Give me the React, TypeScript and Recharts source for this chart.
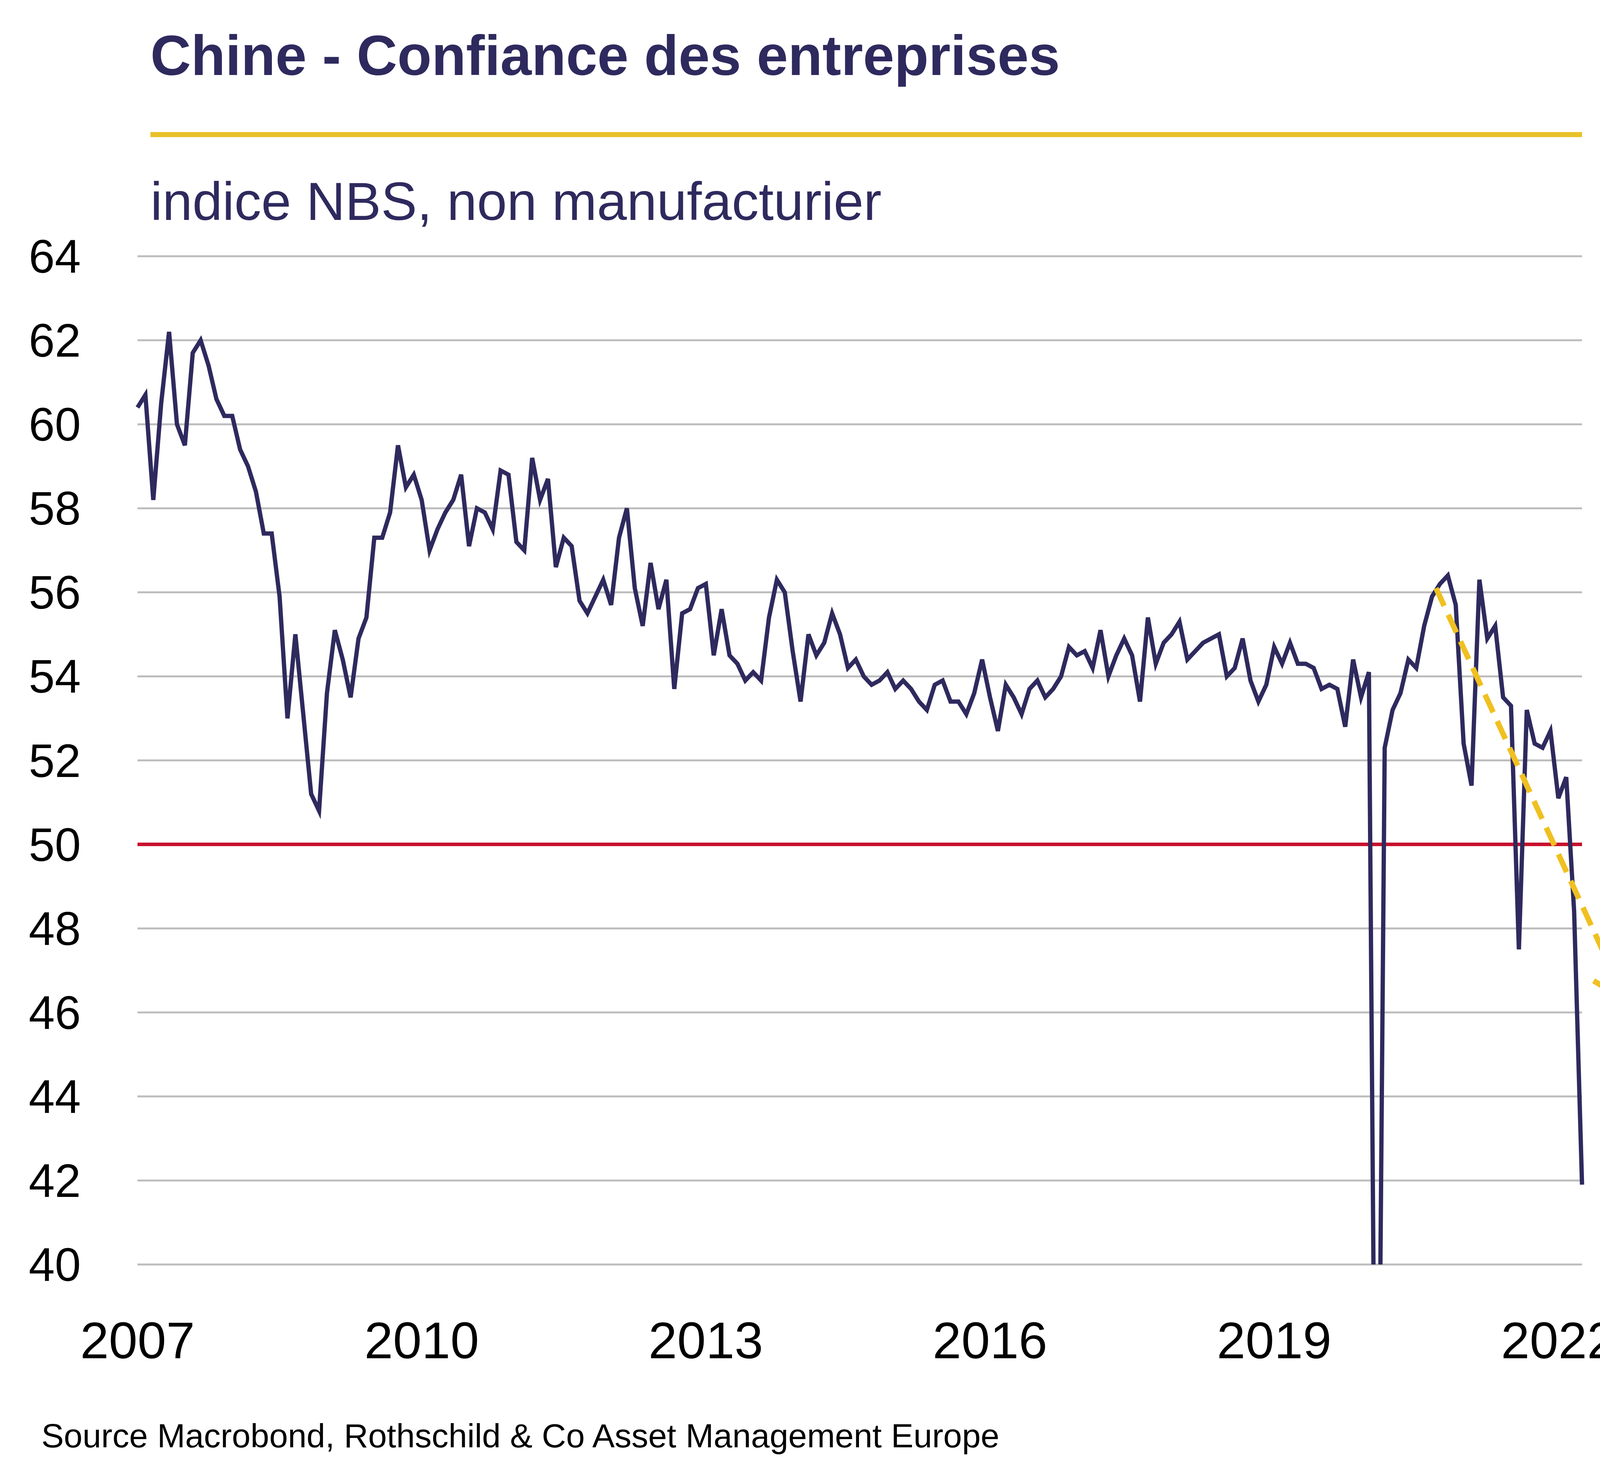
import React from 'react'
import {CartesianGrid, Line, LineChart, ReferenceLine, XAxis, YAxis} from 'recharts';

const y2007 = [60.4, 60.7, 58.2, 60.5, 62.2, 60.0, 59.5, 61.7, 62.0, 61.4, 60.6, 60.2];
const y2008 = [60.2, 59.4, 59.0, 58.4, 57.4, 57.4, 55.9, 53.0, 55.0, 53.1, 51.2, 50.8];
const y2009 = [53.6, 55.1, 54.4, 53.5, 54.9, 55.4, 57.3, 57.3, 57.9, 59.5, 58.5, 58.8];
const y2010 = [58.2, 57.0, 57.5, 57.9, 58.2, 58.8, 57.1, 58.0, 57.9, 57.5, 58.9, 58.8];
const y2011 = [57.2, 57.0, 59.2, 58.2, 58.7, 56.6, 57.3, 57.1, 55.8, 55.5, 55.9, 56.3];
const y2012 = [55.7, 57.3, 58.0, 56.1, 55.2, 56.7, 55.6, 56.3, 53.7, 55.5, 55.6, 56.1];
const y2013 = [56.2, 54.5, 55.6, 54.5, 54.3, 53.9, 54.1, 53.9, 55.4, 56.3, 56.0, 54.6];
const y2014 = [53.4, 55.0, 54.5, 54.8, 55.5, 55.0, 54.2, 54.4, 54.0, 53.8, 53.9, 54.1];
const y2015 = [53.7, 53.9, 53.7, 53.4, 53.2, 53.8, 53.9, 53.4, 53.4, 53.1, 53.6, 54.4];
const y2016 = [53.5, 52.7, 53.8, 53.5, 53.1, 53.7, 53.9, 53.5, 53.7, 54.0, 54.7, 54.5];
const y2017 = [54.6, 54.2, 55.1, 54.0, 54.5, 54.9, 54.5, 53.4, 55.4, 54.3, 54.8, 55.0];
const y2018 = [55.3, 54.4, 54.6, 54.8, 54.9, 55.0, 54.0, 54.2, 54.9, 53.9, 53.4, 53.8];
const y2019 = [54.7, 54.3, 54.8, 54.3, 54.3, 54.2, 53.7, 53.8, 53.7, 52.8, 54.4, 53.5];
const y2020 = [54.1, 29.6, 52.3, 53.2, 53.6, 54.4, 54.2, 55.2, 55.9, 56.2, 56.4, 55.7];
const y2021 = [52.4, 51.4, 56.3, 54.9, 55.2, 53.5, 53.3, 47.5, 53.2, 52.4, 52.3, 52.7];
const y2022 = [51.1, 51.6, 48.4, 41.9];

const values = [...y2007, ...y2008, ...y2009, ...y2010, ...y2011, ...y2012, ...y2013, ...y2014,
    ...y2015, ...y2016, ...y2017, ...y2018, ...y2019, ...y2020, ...y2021, ...y2022];

const yearTicks = [0, 36, 72, 108, 144, 180];
const yearLabels = ['2007', '2010', '2013', '2016', '2019', '2022'];
const yTicks = [40, 42, 44, 46, 48, 50, 52, 54, 56, 58, 60, 62, 64];
const trend = [{x: 164.5, y: 56.1}, {x: 188.5, y: 46.3}];

const data = values.map((v, i) => ({i, v}));

const NAVY = '#2e2a5e';
const FONT = '"Liberation Sans", Arial, sans-serif';

const YTick = ({y, payload}: any) => (
    <text x={207} y={y} dy={42} textAnchor="end" fontSize={120} fill="#000" fontFamily={FONT}>{payload.value}</text>
)

const XTick = ({x, y, payload}: any) => (
    <text x={x} y={y + 232} textAnchor="middle" fontSize={132} fill="#000" fontFamily={FONT}>
        {yearLabels[yearTicks.indexOf(payload.value)]}
    </text>
)

const Arrow = ({x1, y1, x2, y2}: any) => {
    const a = Math.atan2(y2 - y1, x2 - x1);
    const L = 95;
    const p1 = [x2 - L * Math.cos(a - 0.6), y2 - L * Math.sin(a - 0.6)];
    const p2 = [x2 - L * Math.cos(a + 0.6), y2 - L * Math.sin(a + 0.6)];
    return (
        <g stroke="#f0c020" strokeWidth={14} fill="none">
            <line x1={x1} y1={y1} x2={x2} y2={y2} strokeDasharray="50 25"/>
            <polyline points={`${p1[0]},${p1[1]} ${x2},${y2} ${p2[0]},${p2[1]}`}/>
        </g>
    )
}

export default function App() {
    return (
        <div style={{position: 'absolute', left: 0, top: 0, width: 4224, height: 3781, background: '#fff', fontFamily: FONT}}>
            <div style={{position: 'absolute', left: 385, top: 60, fontSize: 144, fontWeight: 700, color: NAVY, whiteSpace: 'nowrap'}}>
                Chine - Confiance des entreprises
            </div>
            <div style={{position: 'absolute', left: 385, top: 338, width: 3665, height: 13, background: '#e8c12a'}}/>
            <div style={{position: 'absolute', left: 385, top: 436, fontSize: 138, color: NAVY, whiteSpace: 'nowrap'}}>
                indice NBS, non manufacturier
            </div>
            <LineChart width={4224} height={3781} data={data}
                       margin={{top: 656, right: 174, bottom: 0, left: 0}}>
                <CartesianGrid vertical={false} stroke="#bdbdbd" strokeWidth={5}/>
                <XAxis dataKey="i" type="number" domain={[0, 183]} ticks={yearTicks} height={544}
                       axisLine={false} tickLine={false} tick={<XTick/>} interval={0}/>
                <YAxis type="number" domain={[40, 64]} ticks={yTicks} allowDataOverflow width={352}
                       axisLine={false} tickLine={false} tick={<YTick/>} interval={0}/>
                <ReferenceLine y={50} stroke="#c8102e" strokeWidth={9}/>
                <Line dataKey="v" stroke={NAVY} strokeWidth={11} dot={false} isAnimationActive={false}/>
                <ReferenceLine segment={trend} ifOverflow="visible" shape={<Arrow/>}/>
            </LineChart>
            <div style={{position: 'absolute', left: 106, top: 3626, fontSize: 86, color: '#000', whiteSpace: 'nowrap'}}>
                Source Macrobond, Rothschild &amp; Co Asset Management Europe
            </div>
        </div>
    )
}
